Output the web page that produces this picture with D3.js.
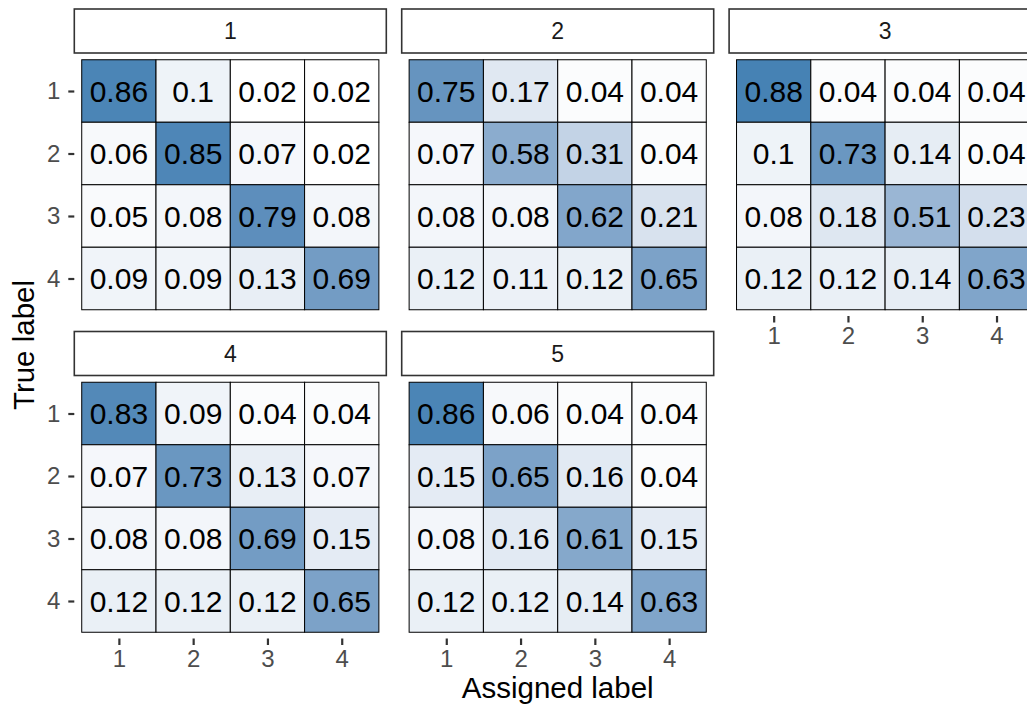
<!DOCTYPE html>
<html>
<head>
<meta charset="utf-8">
<script src="https://cdn.jsdelivr.net/npm/d3@7"></script>
<style>
  body { margin: 0; background: #fff; }
  svg { display: block; font-family: "Liberation Sans", Arial, sans-serif; }
</style>
</head>
<body>
<script>
// facets (fold number) and class labels
const folds = ["1", "2", "3", "4", "5"];
const labels = [1, 2, 3, 4];

// confusion matrices, rows = true label, cols = assigned label
const fold1 = [[0.86, 0.1, 0.02, 0.02], [0.06, 0.85, 0.07, 0.02], [0.05, 0.08, 0.79, 0.08], [0.09, 0.09, 0.13, 0.69]];
const fold2 = [[0.75, 0.17, 0.04, 0.04], [0.07, 0.58, 0.31, 0.04], [0.08, 0.08, 0.62, 0.21], [0.12, 0.11, 0.12, 0.65]];
const fold3 = [[0.88, 0.04, 0.04, 0.04], [0.1, 0.73, 0.14, 0.04], [0.08, 0.18, 0.51, 0.23], [0.12, 0.12, 0.14, 0.63]];
const fold4 = [[0.83, 0.09, 0.04, 0.04], [0.07, 0.73, 0.13, 0.07], [0.08, 0.08, 0.69, 0.15], [0.12, 0.12, 0.12, 0.65]];
const fold5 = [[0.86, 0.06, 0.04, 0.04], [0.15, 0.65, 0.16, 0.04], [0.08, 0.16, 0.61, 0.15], [0.12, 0.12, 0.14, 0.63]];
const matrices = [fold1, fold2, fold3, fold4, fold5];

const W = 1027, H = 710;
const svg = d3.select("body").append("svg").attr("width", W).attr("height", H);

// layout of the facet grid
const ncol = 3;
const panelW = 312, panelH = 262.5, stripH = 44;
const left0 = 74.3, colStep = 327.4;
const top0 = 9, rowStep = 322.5;

// flatten to tiles
const tiles = [];
matrices.forEach((m, f) => {
  m.forEach((row, i) => row.forEach((v, j) => {
    tiles.push({ fold: f, truth: labels[i], assigned: labels[j], value: v });
  }));
});

const fill = d3.scaleLinear()
  .domain(d3.extent(tiles, d => d.value))
  .range(["white", "steelblue"])
  .interpolate(d3.interpolateLab);

const x = d3.scaleLinear().domain([0.4, 4.6]).range([0, panelW]);
const y = d3.scaleLinear().domain([0.4, 4.6]).range([0, panelH]);

folds.forEach((name, f) => {
  const col = f % ncol, row = Math.floor(f / ncol);
  const px = left0 + col * colStep;
  const sy = top0 + row * rowStep;
  const py = sy + stripH + 0.5;

  // strip
  const strip = svg.append("g").attr("transform", `translate(${px},${sy})`);
  strip.append("rect")
    .attr("width", panelW).attr("height", stripH)
    .attr("fill", "white").attr("stroke", "#333333").attr("stroke-width", 1.6);
  strip.append("text")
    .attr("x", panelW / 2).attr("y", stripH / 2).attr("dy", "0.36em")
    .attr("text-anchor", "middle")
    .attr("fill", "#1a1a1a").style("font-size", "23px")
    .text(name);

  const g = svg.append("g").attr("transform", `translate(${px},${py})`);
  const data = tiles.filter(d => d.fold === f);

  g.selectAll("rect.tile")
    .data(data)
    .enter().append("rect")
    .attr("class", "tile")
    .attr("x", d => x(d.assigned - 0.5))
    .attr("y", d => y(d.truth - 0.5))
    .attr("width", x(1.5) - x(0.5))
    .attr("height", y(1.5) - y(0.5))
    .attr("fill", d => fill(d.value))
    .attr("stroke", "black")
    .attr("stroke-width", 1);

  g.selectAll("text.val")
    .data(data)
    .enter().append("text")
    .attr("class", "val")
    .attr("x", d => x(d.assigned))
    .attr("y", d => y(d.truth))
    .attr("dy", "0.36em")
    .attr("text-anchor", "middle")
    .style("font-size", "30px")
    .attr("fill", "black")
    .text(d => String(d.value));

  // y axis on the first column only
  if (col === 0) {
    const ya = g.append("g").call(d3.axisLeft(y).tickValues(labels).tickSize(6).tickPadding(8).tickFormat(d3.format("d")));
    ya.select(".domain").remove();
    ya.selectAll("line").attr("stroke", "#333333").attr("stroke-width", 2.2);
    ya.selectAll("text").attr("fill", "#4d4d4d").style("font-size", "24px").attr("font-family", null);
  }
  // x axis where nothing sits below
  if (f + ncol >= folds.length) {
    const xa = g.append("g").attr("transform", `translate(0,${panelH})`)
      .call(d3.axisBottom(x).tickValues(labels).tickSize(6.5).tickPadding(4.5).tickFormat(d3.format("d")));
    xa.select(".domain").remove();
    xa.selectAll("line").attr("stroke", "#333333").attr("stroke-width", 2.2);
    xa.selectAll("text").attr("fill", "#4d4d4d").style("font-size", "24px").attr("font-family", null);
  }
});

// axis titles
svg.append("text")
  .attr("x", left0 + (2 * colStep + panelW) / 2).attr("y", 698)
  .attr("text-anchor", "middle").style("font-size", "29.5px").attr("fill", "black")
  .text("Assigned label");

svg.append("text")
  .attr("transform", "translate(34,345) rotate(-90)")
  .attr("text-anchor", "middle").style("font-size", "29.5px").attr("fill", "black")
  .text("True label");
</script>
</body>
</html>
